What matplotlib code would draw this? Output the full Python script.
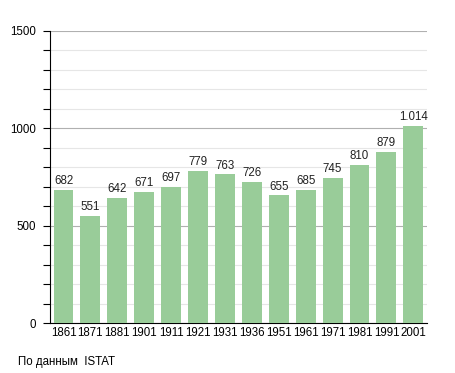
import matplotlib
matplotlib.use("Agg")
import matplotlib.pyplot as plt
from matplotlib.ticker import MultipleLocator

plt.rcParams["font.family"] = ["Liberation Sans", "DejaVu Sans"]

years = ["1861", "1871", "1881", "1901", "1911", "1921", "1931", "1936",
         "1951", "1961", "1971", "1981", "1991", "2001"]
values = [682, 551, 642, 671, 697, 779, 763, 726, 655, 685, 745, 810, 879, 1014]

fig = plt.figure(figsize=(4.55, 3.73), dpi=100)
ax = fig.add_axes([0.11, 0.134, 0.828, 0.783])

x = range(len(years))
ax.bar(x, values, width=0.74, color="#99cc99", zorder=3)
for xi, v in zip(x, values):
    lab = f"{v:,}".replace(",", ".")
    ax.text(xi, v + 15, lab, ha="center", va="bottom", fontsize=8.3, color="#222222", zorder=4)

ax.set_xlim(-0.5, len(years) - 0.5)
ax.set_ylim(0, 1500)
ax.set_xticks(list(x))
ax.set_xticklabels(years, fontsize=8.3)
ax.tick_params(axis="x", length=0, pad=3)
ax.yaxis.set_major_locator(MultipleLocator(500))
ax.yaxis.set_minor_locator(MultipleLocator(100))
ax.tick_params(axis="y", which="both", length=5, width=0.8, labelsize=8.3, pad=5)
ax.grid(axis="y", which="major", color="#b0b0b0", linewidth=0.8, zorder=0)
ax.grid(axis="y", which="minor", color="#e6e6e6", linewidth=0.8, zorder=0)
for s in ["top", "right"]:
    ax.spines[s].set_visible(False)
ax.spines["left"].set_color("black")
ax.spines["bottom"].set_color("black")

fig.text(18 / 455, 1 - 362 / 373, "По данным  ISTAT", fontsize=8.3, va="center", ha="left")

fig.savefig("out.png", dpi=100)
